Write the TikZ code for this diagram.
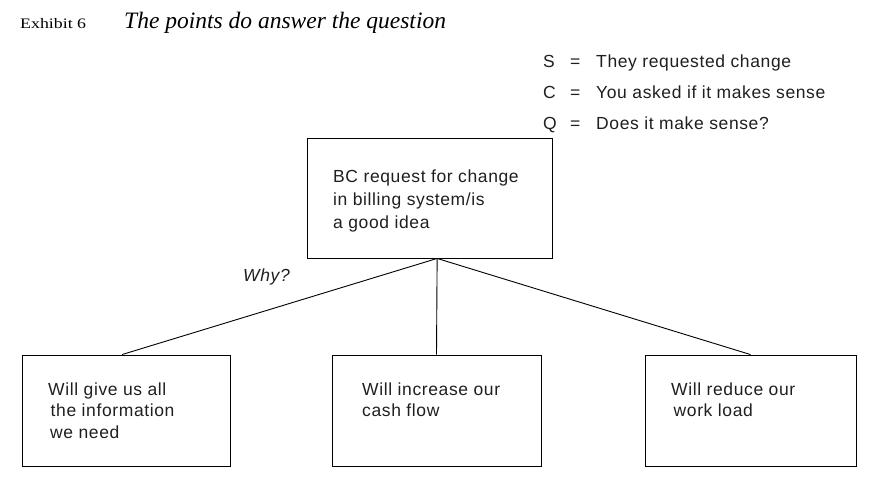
\documentclass[tikz,border=0pt]{standalone}
\usepackage{fontspec}
\usepackage{graphicx}
\setmainfont{Liberation Serif}
\newfontfamily\boxfont[LetterSpace=3.5]{Liberation Sans}
\usetikzlibrary{calc}
\begin{document}
\begin{tikzpicture}[x=1pt,y=-1pt,
  box/.style={draw, line width=0.9pt, inner sep=0pt},
  conn/.style={draw, line width=0.9pt},
  txt/.style={inner sep=0pt, anchor=base west, text=black!88},
  boxtxt/.style={txt, font=\boxfont\fontsize{17.5}{21.5}\selectfont},
  toptxt/.style={txt, font=\boxfont\fontsize{17.5}{23}\selectfont},
  legtxt/.style={txt, font=\boxfont\fontsize{17.5}{30.7}\selectfont}]
\useasboundingbox (0,0) rectangle (882,486);
% title
\node[txt, text=black, font=\fontsize{14.5}{17}\selectfont] (exhibit) at (20,29) {\scalebox{1.23}[1]{Exhibit 6}};
\node[txt, text=black, font=\itshape\fontsize{23.5}{28}\selectfont] (title) at (124,29) {The points do answer the question};
% legend
\node[legtxt] (legend) at (543,68) {\begin{tabular}[t]{@{}p{27pt}@{}p{26pt}@{}l@{}}S & = & They requested change\\ C & = & You asked if it makes sense\\ Q & = & Does it make sense?\end{tabular}};
% boxes
\node[box, minimum width=245pt, minimum height=120pt] (top) at (429.5,198) {};
\node[box, minimum width=208pt, minimum height=111pt] (left) at (126,410.5) {};
\node[box, minimum width=209pt, minimum height=111pt] (mid) at (436.5,410.5) {};
\node[box, minimum width=211pt, minimum height=111pt] (right) at (750.5,410.5) {};
% box texts
\node[toptxt] (toptext) at (333,183) {\begin{tabular}[t]{@{}l@{}}BC request for change\\ in billing system/is\\ a good idea\end{tabular}};
\node[boxtxt] (lefttext) at (48,395) {\begin{tabular}[t]{@{}l@{}}Will give us all\\ \hspace{2.5pt}the information\\ \hspace{2pt}we need\end{tabular}};
\node[boxtxt] (midtext) at (362,395) {\begin{tabular}[t]{@{}l@{}}Will increase our\\ cash flow\end{tabular}};
\node[boxtxt] (righttext) at (671,395) {\begin{tabular}[t]{@{}l@{}}Will reduce our\\ \hspace{2.5pt}work load\end{tabular}};
% connectors
\coordinate (apex) at ($(top.south west)!0.531!(top.south east)$);
\coordinate (leftend) at ($(left.north west)!0.481!(left.north east)$);
\draw[conn] (apex) -- (leftend);
\draw[conn] (apex) -- (mid.north);
\draw[conn] (apex) -- (right.north);
\node[txt, font=\boxfont\itshape\fontsize{17.5}{21}\selectfont] (why) at (243,281) {Why?};
\end{tikzpicture}
\end{document}
